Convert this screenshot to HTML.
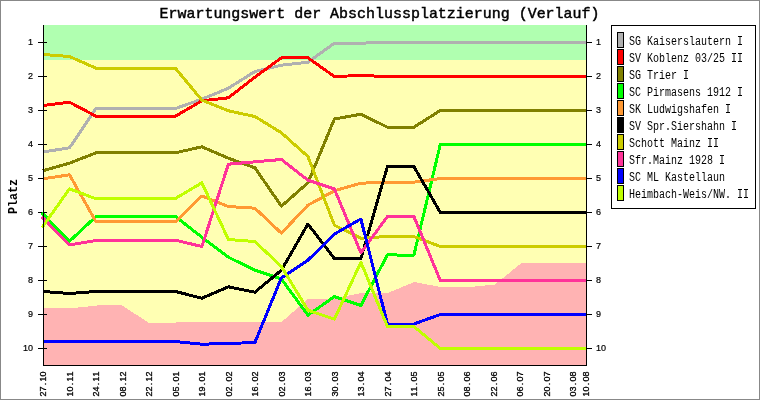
<!DOCTYPE html>
<html><head><meta charset="utf-8"><title>Erwartungswert der Abschlussplatzierung (Verlauf)</title>
<style>
html,body{margin:0;padding:0;background:#fff;}
body{width:760px;height:400px;overflow:hidden;font-family:"Liberation Mono",monospace;}
svg{display:block;will-change:transform;}
text{font-family:"Liberation Mono",monospace;fill:#000;}
.tiny{font-family:"Liberation Sans",sans-serif;font-size:9px;stroke:#000;stroke-width:0.2px;}
.leg{font-size:12px;}
.xl{font-family:"Liberation Sans",sans-serif;font-size:9px;stroke:#000;stroke-width:0.3px;}
.ttl{font-size:15px;font-weight:normal;stroke:#000;stroke-width:0.45px;}
.ylab{font-size:12px;font-weight:bold;}
</style></head><body>
<svg width="760" height="400" viewBox="0 0 760 400">
<rect x="0" y="0" width="760" height="400" fill="#ffffff"/>
<rect x="0.5" y="0.5" width="759" height="399" fill="none" stroke="#888888" stroke-width="1"/>

<g shape-rendering="crispEdges">
<rect x="44" y="25" width="542" height="340" fill="#ffffb3"/>
<rect x="44" y="25" width="542" height="35" fill="#b0ffb0"/>
<polygon points="44,365 44.0,308.4 70.0,308.4 99.0,305.3 122.0,305.3 149.6,323.4 176.0,322.5 202.0,322.0 281.5,322.0 308.0,299.0 334.5,298.5 361.0,293.0 387.5,293.0 414.5,282.0 440.5,287.0 467.0,287.3 495.0,284.5 521.5,263.0 586.0,263.0 586,365" fill="#ffb3b3"/>
</g>
<g shape-rendering="crispEdges" stroke="#000" stroke-width="1">
<line x1="38" y1="42.5" x2="47" y2="42.5"/>
<line x1="587" y1="42.5" x2="592" y2="42.5"/>
<line x1="38" y1="76.5" x2="47" y2="76.5"/>
<line x1="587" y1="76.5" x2="592" y2="76.5"/>
<line x1="38" y1="110.5" x2="47" y2="110.5"/>
<line x1="587" y1="110.5" x2="592" y2="110.5"/>
<line x1="38" y1="144.5" x2="47" y2="144.5"/>
<line x1="587" y1="144.5" x2="592" y2="144.5"/>
<line x1="38" y1="178.5" x2="47" y2="178.5"/>
<line x1="587" y1="178.5" x2="592" y2="178.5"/>
<line x1="38" y1="212.5" x2="47" y2="212.5"/>
<line x1="587" y1="212.5" x2="592" y2="212.5"/>
<line x1="38" y1="246.5" x2="47" y2="246.5"/>
<line x1="587" y1="246.5" x2="592" y2="246.5"/>
<line x1="38" y1="280.5" x2="47" y2="280.5"/>
<line x1="587" y1="280.5" x2="592" y2="280.5"/>
<line x1="38" y1="314.5" x2="47" y2="314.5"/>
<line x1="587" y1="314.5" x2="592" y2="314.5"/>
<line x1="38" y1="348.5" x2="47" y2="348.5"/>
<line x1="587" y1="348.5" x2="592" y2="348.5"/>
</g>
<g fill="none" stroke-width="3" stroke-linejoin="round" stroke-linecap="butt" shape-rendering="crispEdges">
<polyline stroke="#b0b0b0" points="42.8,152.0 69.5,147.8 96.0,108.5 122.5,108.5 149.0,108.5 175.4,108.5 201.9,99.2 228.4,88.2 254.9,71.5 281.4,65.2 307.9,62.2 334.4,43.2 360.9,43.2 387.4,42.2 413.9,42.2 440.3,42.5 586.0,42.5"/>
<polyline stroke="#ff0000" points="42.9,105.5 69.5,102.2 96.0,116.2 122.5,116.2 149.0,116.2 175.4,116.2 201.9,100.8 228.4,97.8 254.9,77.2 281.4,57.8 307.9,57.8 334.4,76.5 360.9,75.5 387.4,76.5 413.9,76.2 440.3,76.5 586.0,76.5"/>
<polyline stroke="#808000" points="42.7,170.8 69.5,163.2 96.0,152.8 122.5,152.8 149.0,152.8 175.4,152.8 201.9,146.8 228.4,158.2 254.9,167.8 281.4,206.2 307.9,182.8 334.4,119.0 360.9,114.2 387.4,127.2 413.9,127.2 440.3,110.5 586.0,110.5"/>
<polyline stroke="#00ff00" points="42.0,213.0 69.5,241.2 96.0,216.5 122.5,216.5 149.0,216.5 175.4,216.5 201.9,237.2 228.4,257.2 254.9,270.2 281.4,279.0 307.9,315.2 334.4,296.6 360.9,305.4 387.4,254.9 413.9,255.2 440.3,144.5 586.0,144.5"/>
<polyline stroke="#ff9933" points="42.8,178.8 69.5,174.8 96.0,221.8 122.5,221.8 149.0,221.8 175.4,221.8 201.9,196.0 228.4,206.5 254.9,208.2 281.4,233.2 307.9,205.2 334.4,190.8 360.9,183.2 387.4,182.2 413.9,182.2 440.3,178.5 586.0,178.5"/>
<polyline stroke="#000000" points="42.9,291.5 69.5,293.5 96.0,291.5 122.5,291.5 149.0,291.5 175.4,291.5 201.9,298.2 228.4,286.8 254.9,292.2 281.4,270.2 307.9,224.0 334.4,258.6 360.9,258.6 387.4,166.5 413.9,166.5 440.3,212.5 586.0,212.5"/>
<polyline stroke="#cccc00" points="42.9,54.5 69.5,56.5 96.0,68.2 122.5,68.2 149.0,68.2 175.4,68.2 201.9,100.2 228.4,110.8 254.9,116.5 281.4,132.8 307.9,156.5 334.4,225.2 360.9,238.2 387.4,236.5 413.9,236.5 440.3,246.5 586.0,246.5"/>
<polyline stroke="#ff3399" points="42.0,217.0 69.5,245.0 96.0,240.5 122.5,240.2 149.0,240.2 175.4,240.2 201.9,246.5 228.4,164.2 254.9,161.8 281.4,159.5 307.9,180.2 334.4,189.0 360.9,252.8 387.4,216.5 413.9,216.5 440.3,280.5 586.0,280.5"/>
<polyline stroke="#0000ff" points="43.0,341.5 69.5,341.5 96.0,341.5 122.5,341.5 149.0,341.5 175.4,341.5 201.9,344.2 228.4,343.5 254.9,342.5 281.4,277.8 307.9,260.2 334.4,234.0 360.9,219.0 387.4,324.0 413.9,324.0 440.3,314.5 586.0,314.5"/>
<polyline stroke="#c0ff00" points="42.0,227.7 69.5,188.8 96.0,198.8 122.5,198.5 149.0,198.5 175.4,198.5 201.9,182.8 228.4,239.5 254.9,241.5 281.4,266.5 307.9,310.2 334.4,319.2 360.9,262.2 387.4,326.5 413.9,326.5 440.3,348.5 586.0,348.5"/>
</g>
<g shape-rendering="crispEdges" stroke="#000" stroke-width="1">
<line x1="43.5" y1="25" x2="43.5" y2="366"/>
<line x1="586.5" y1="25" x2="586.5" y2="366"/>
<line x1="43" y1="365.5" x2="587" y2="365.5"/>
</g>
<text class="tiny" x="33" y="44.6" text-anchor="end">1</text>
<text class="tiny" x="596" y="44.6">1</text>
<text class="tiny" x="33" y="78.6" text-anchor="end">2</text>
<text class="tiny" x="596" y="78.6">2</text>
<text class="tiny" x="33" y="112.6" text-anchor="end">3</text>
<text class="tiny" x="596" y="112.6">3</text>
<text class="tiny" x="33" y="146.6" text-anchor="end">4</text>
<text class="tiny" x="596" y="146.6">4</text>
<text class="tiny" x="33" y="180.6" text-anchor="end">5</text>
<text class="tiny" x="596" y="180.6">5</text>
<text class="tiny" x="33" y="214.6" text-anchor="end">6</text>
<text class="tiny" x="596" y="214.6">6</text>
<text class="tiny" x="33" y="248.6" text-anchor="end">7</text>
<text class="tiny" x="596" y="248.6">7</text>
<text class="tiny" x="33" y="282.6" text-anchor="end">8</text>
<text class="tiny" x="596" y="282.6">8</text>
<text class="tiny" x="33" y="316.6" text-anchor="end">9</text>
<text class="tiny" x="596" y="316.6">9</text>
<text class="tiny" x="33" y="350.6" text-anchor="end">10</text>
<text class="tiny" x="596" y="350.6">10</text>
<text class="xl" transform="translate(46.3,396.5) rotate(-90)" x="0.00 5.00 11.25 15.00 20.00">27.10</text>
<text class="xl" transform="translate(72.8,396.5) rotate(-90)" x="0.00 5.00 11.25 15.00 20.00">10.11</text>
<text class="xl" transform="translate(99.3,396.5) rotate(-90)" x="0.00 5.00 11.25 15.00 20.00">24.11</text>
<text class="xl" transform="translate(125.8,396.5) rotate(-90)" x="0.00 5.00 11.25 15.00 20.00">08.12</text>
<text class="xl" transform="translate(152.3,396.5) rotate(-90)" x="0.00 5.00 11.25 15.00 20.00">22.12</text>
<text class="xl" transform="translate(178.8,396.5) rotate(-90)" x="0.00 5.00 11.25 15.00 20.00">05.01</text>
<text class="xl" transform="translate(205.2,396.5) rotate(-90)" x="0.00 5.00 11.25 15.00 20.00">19.01</text>
<text class="xl" transform="translate(231.7,396.5) rotate(-90)" x="0.00 5.00 11.25 15.00 20.00">02.02</text>
<text class="xl" transform="translate(258.2,396.5) rotate(-90)" x="0.00 5.00 11.25 15.00 20.00">16.02</text>
<text class="xl" transform="translate(284.7,396.5) rotate(-90)" x="0.00 5.00 11.25 15.00 20.00">02.03</text>
<text class="xl" transform="translate(311.2,396.5) rotate(-90)" x="0.00 5.00 11.25 15.00 20.00">16.03</text>
<text class="xl" transform="translate(337.7,396.5) rotate(-90)" x="0.00 5.00 11.25 15.00 20.00">30.03</text>
<text class="xl" transform="translate(364.2,396.5) rotate(-90)" x="0.00 5.00 11.25 15.00 20.00">13.04</text>
<text class="xl" transform="translate(390.7,396.5) rotate(-90)" x="0.00 5.00 11.25 15.00 20.00">27.04</text>
<text class="xl" transform="translate(417.2,396.5) rotate(-90)" x="0.00 5.00 11.25 15.00 20.00">11.05</text>
<text class="xl" transform="translate(443.6,396.5) rotate(-90)" x="0.00 5.00 11.25 15.00 20.00">25.05</text>
<text class="xl" transform="translate(470.1,396.5) rotate(-90)" x="0.00 5.00 11.25 15.00 20.00">08.06</text>
<text class="xl" transform="translate(496.6,396.5) rotate(-90)" x="0.00 5.00 11.25 15.00 20.00">22.06</text>
<text class="xl" transform="translate(523.1,396.5) rotate(-90)" x="0.00 5.00 11.25 15.00 20.00">06.07</text>
<text class="xl" transform="translate(549.6,396.5) rotate(-90)" x="0.00 5.00 11.25 15.00 20.00">20.07</text>
<text class="xl" transform="translate(576.1,396.5) rotate(-90)" x="0.00 5.00 11.25 15.00 20.00">03.08</text>
<text class="xl" transform="translate(589.3,396.5) rotate(-90)" x="0.00 5.00 11.25 15.00 20.00">10.08</text>
<text class="ttl" x="159.5" y="18" textLength="440" lengthAdjust="spacingAndGlyphs">Erwartungswert der Abschlussplatzierung (Verlauf)</text>
<text class="ylab" transform="translate(17,214) rotate(-90)" textLength="35" lengthAdjust="spacingAndGlyphs">Platz</text>
<rect x="611.5" y="25.5" width="144" height="183" fill="#fff" stroke="#000" stroke-width="1" shape-rendering="crispEdges"/>
<rect x="617.5" y="32.5" width="6" height="15" fill="#b0b0b0" stroke="#000" stroke-width="1" shape-rendering="crispEdges"/>
<text class="leg" x="629" y="45" textLength="114" lengthAdjust="spacingAndGlyphs">SG Kaiserslautern I</text>
<rect x="617.5" y="49.5" width="6" height="15" fill="#ff0000" stroke="#000" stroke-width="1" shape-rendering="crispEdges"/>
<text class="leg" x="629" y="62" textLength="114" lengthAdjust="spacingAndGlyphs">SV Koblenz 03/25 II</text>
<rect x="617.5" y="66.5" width="6" height="15" fill="#808000" stroke="#000" stroke-width="1" shape-rendering="crispEdges"/>
<text class="leg" x="629" y="79" textLength="60" lengthAdjust="spacingAndGlyphs">SG Trier I</text>
<rect x="617.5" y="83.5" width="6" height="15" fill="#00ff00" stroke="#000" stroke-width="1" shape-rendering="crispEdges"/>
<text class="leg" x="629" y="96" textLength="114" lengthAdjust="spacingAndGlyphs">SC Pirmasens 1912 I</text>
<rect x="617.5" y="100.5" width="6" height="15" fill="#ff9933" stroke="#000" stroke-width="1" shape-rendering="crispEdges"/>
<text class="leg" x="629" y="113" textLength="102" lengthAdjust="spacingAndGlyphs">SK Ludwigshafen I</text>
<rect x="617.5" y="117.5" width="6" height="15" fill="#000000" stroke="#000" stroke-width="1" shape-rendering="crispEdges"/>
<text class="leg" x="629" y="130" textLength="108" lengthAdjust="spacingAndGlyphs">SV Spr.Siershahn I</text>
<rect x="617.5" y="134.5" width="6" height="15" fill="#cccc00" stroke="#000" stroke-width="1" shape-rendering="crispEdges"/>
<text class="leg" x="629" y="147" textLength="90" lengthAdjust="spacingAndGlyphs">Schott Mainz II</text>
<rect x="617.5" y="151.5" width="6" height="15" fill="#ff3399" stroke="#000" stroke-width="1" shape-rendering="crispEdges"/>
<text class="leg" x="629" y="164" textLength="96" lengthAdjust="spacingAndGlyphs">Sfr.Mainz 1928 I</text>
<rect x="617.5" y="168.5" width="6" height="15" fill="#0000ff" stroke="#000" stroke-width="1" shape-rendering="crispEdges"/>
<text class="leg" x="629" y="181" textLength="96" lengthAdjust="spacingAndGlyphs">SC ML Kastellaun</text>
<rect x="617.5" y="185.5" width="6" height="15" fill="#c0ff00" stroke="#000" stroke-width="1" shape-rendering="crispEdges"/>
<text class="leg" x="629" y="198" textLength="120" lengthAdjust="spacingAndGlyphs">Heimbach-Weis/NW. II</text>
</svg></body></html>
